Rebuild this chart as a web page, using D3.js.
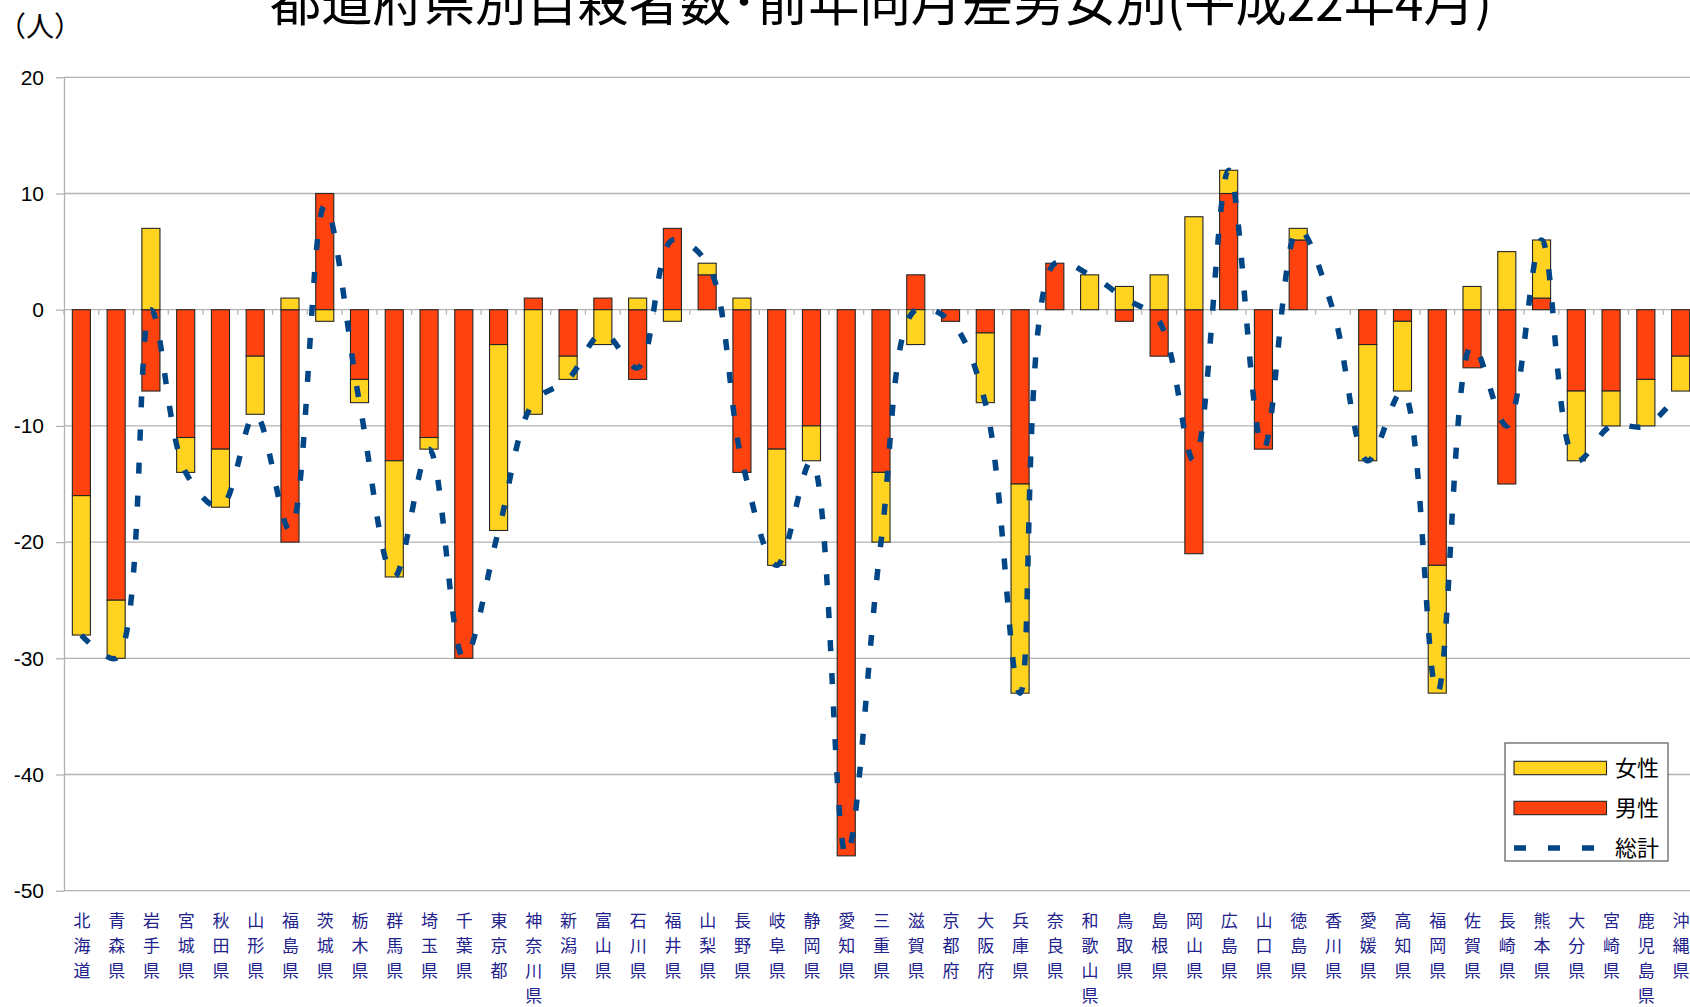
<html>
  <head>
    <meta charset="utf-8">
    <script src="https://cdn.jsdelivr.net/npm/d3@7"></script>
    <style>
      body { margin: 0; background: #fff; overflow: hidden; }
      svg { display: block; }
    </style>
  </head>
  <body>
    <script>
      // data (persons, difference from same month of previous year)
      const prefectures = ["北海道","青森県","岩手県","宮城県","秋田県","山形県","福島県","茨城県","栃木県","群馬県",
        "埼玉県","千葉県","東京都","神奈川県","新潟県","富山県","石川県","福井県","山梨県","長野県",
        "岐阜県","静岡県","愛知県","三重県","滋賀県","京都府","大阪府","兵庫県","奈良県","和歌山県",
        "鳥取県","島根県","岡山県","広島県","山口県","徳島県","香川県","愛媛県","高知県","福岡県",
        "佐賀県","長崎県","熊本県","大分県","宮崎県","鹿児島県","沖縄県"];
      const male = [-16,-25,-7,-11,-12,-4,-20,10,-6,-13,
        -11,-30,-3,1,-4,1,-6,7,3,-14,
        -12,-10,-47,-14,3,-1,-2,-15,4,0,
        -1,-4,-21,10,-12,6,0,-3,-1,-22,
        -5,-15,1,-7,-7,-6,-4];
      const female = [-12,-5,7,-3,-5,-5,1,-1,-2,-10,
        -1,0,-16,-9,-2,-3,1,-1,1,1,
        -10,-3,0,-6,-3,0,-6,-18,0,3,
        2,3,8,2,0,1,0,-10,-6,-11,
        2,5,5,-6,-3,-4,-3];
      const total = [-28,-30,0,-14,-17,-9,-19,9,-8,-23,
        -12,-30,-19,-8,-6,-2,-5,6,4,-13,
        -22,-13,-47,-20,0,-1,-8,-33,4,3,
        1,-1,-13,12,-12,7,0,-13,-7,-33,
        -3,-10,6,-13,-10,-10,-7];
      const yTicks = [20, 10, 0, -10, -20, -30, -40, -50];
      const legendItems = ["女性", "男性", "総計"];

      const W = 1690, H = 1007;
      const plotLeft = 64, plotRight = 1698, plotTop = 77.3, plotBottom = 890.7;
      const colors = { male: "#ff420e", female: "#ffd320", total: "#004586" };
      const cjk = "'Noto Sans CJK JP', 'Noto Sans', sans-serif";

      const svg = d3.select("body").append("svg")
          .attr("width", W)
          .attr("height", H);

      const x = d3.scaleBand()
          .domain(prefectures)
          .range([plotLeft, plotRight])
          .paddingInner(0.48)
          .paddingOuter(0.24);

      const y = d3.scaleLinear()
          .domain([-50, 20])
          .range([plotBottom, plotTop]);

      const cx = p => x(p) + x.bandwidth() / 2;

      // gridlines
      svg.append("g")
        .selectAll("line")
        .data(yTicks)
        .join("line")
          .attr("x1", plotLeft)
          .attr("x2", W)
          .attr("y1", d => y(d))
          .attr("y2", d => y(d))
          .attr("stroke", "#b3b3b3")
          .attr("stroke-width", 1.3);

      // y axis
      const yAxis = svg.append("g")
          .attr("transform", `translate(${plotLeft},0)`)
          .call(d3.axisLeft(y).tickValues(yTicks).tickFormat(d => String(d))
            .tickSizeInner(8).tickSizeOuter(0).tickPadding(12));
      yAxis.select(".domain").attr("stroke", "#b3b3b3").attr("stroke-width", 1.3);
      yAxis.selectAll(".tick line").attr("stroke", "#b3b3b3").attr("stroke-width", 1.3);
      yAxis.selectAll(".tick text")
          .attr("fill", "#000")
          .style("font-family", "'Liberation Sans', Arial, sans-serif")
          .style("font-size", "21px");

      // category ticks on the zero line
      const boundaries = prefectures.map(p => cx(p) - x.step() / 2)
          .concat([cx(prefectures[prefectures.length - 1]) + x.step() / 2]);
      svg.append("g")
        .selectAll("line")
        .data(boundaries)
        .join("line")
          .attr("x1", d => d)
          .attr("x2", d => d)
          .attr("y1", y(0))
          .attr("y2", y(0) + 5)
          .attr("stroke", "#b3b3b3")
          .attr("stroke-width", 1.3);

      // stacked bars: male next to zero, female beyond it
      const rows = prefectures.map((p, i) => ({ pref: p, male: male[i], female: female[i] }));
      const series = d3.stack()
          .keys(["male", "female"])
          .offset(d3.stackOffsetDiverging)(rows);

      svg.append("g")
        .selectAll("g")
        .data(series)
        .join("g")
          .attr("fill", d => colors[d.key])
        .selectAll("rect")
        .data(d => d.filter(s => s[0] !== s[1]))
        .join("rect")
          .attr("x", d => x(d.data.pref))
          .attr("width", x.bandwidth())
          .attr("y", d => y(Math.max(d[0], d[1])))
          .attr("height", d => Math.abs(y(d[0]) - y(d[1])))
          .attr("stroke", "#262626")
          .attr("stroke-width", 1.1);

      // total line, smoothed
      const line = d3.line()
          .x((d, i) => cx(prefectures[i]))
          .y(d => y(d))
          .curve(d3.curveCatmullRom.alpha(0.5));

      svg.append("path")
          .datum(total)
          .attr("fill", "none")
          .attr("stroke", colors.total)
          .attr("stroke-width", 5.5)
          .attr("stroke-dasharray", "11,22")
          .attr("d", line);

      // category labels, written top to bottom
      svg.append("g")
        .selectAll("text")
        .data(prefectures)
        .join("text")
          .attr("x", d => cx(d) + 0.5)
          .attr("y", 926.5)
          .attr("text-anchor", "middle")
          .attr("fill", "#22228c")
          .style("font-family", cjk)
          .style("font-size", "17px")
        .selectAll("tspan")
        .data(d => Array.from(d))
        .join("tspan")
          .attr("x", function () { return this.parentNode.getAttribute("x"); })
          .attr("dy", (d, i) => i === 0 ? 0 : 25.1)
          .text(d => d);

      // unit
      svg.append("text")
          .attr("x", 40)
          .attr("y", 37)
          .attr("text-anchor", "middle")
          .style("font-family", cjk)
          .style("font-size", "28px")
          .text("（人）");

      // title
      svg.append("text")
          .attr("x", 270)
          .attr("y", 21)
          .attr("textLength", 1222)
          .attr("lengthAdjust", "spacingAndGlyphs")
          .style("font-family", cjk)
          .style("font-size", "52px")
          .text("都道府県別自殺者数･前年同月差男女別(平成22年4月)");

      // legend
      const legend = svg.append("g");
      legend.append("rect")
          .attr("x", 1505)
          .attr("y", 743)
          .attr("width", 163)
          .attr("height", 118)
          .attr("fill", "#fff")
          .attr("stroke", "#666")
          .attr("stroke-width", 1.3);

      const legendY = d3.scalePoint().domain(legendItems).range([768, 848]);

      legend.selectAll("rect.sw")
        .data(["女性", "男性"])
        .join("rect")
          .attr("class", "sw")
          .attr("x", 1514)
          .attr("y", d => legendY(d) - 6.7)
          .attr("width", 92.5)
          .attr("height", 13.4)
          .attr("fill", d => d === "女性" ? colors.female : colors.male)
          .attr("stroke", "#262626")
          .attr("stroke-width", 1.1);

      legend.append("line")
          .attr("x1", 1514)
          .attr("x2", 1606)
          .attr("y1", legendY("総計"))
          .attr("y2", legendY("総計"))
          .attr("stroke", colors.total)
          .attr("stroke-width", 5.5)
          .attr("stroke-dasharray", "12,22");

      legend.selectAll("text.lt")
        .data(legendItems)
        .join("text")
          .attr("class", "lt")
          .attr("x", 1615)
          .attr("y", d => legendY(d) + 8.4)
          .style("font-family", cjk)
          .style("font-size", "22px")
          .text(d => d);
    </script>
  </body>
</html>
